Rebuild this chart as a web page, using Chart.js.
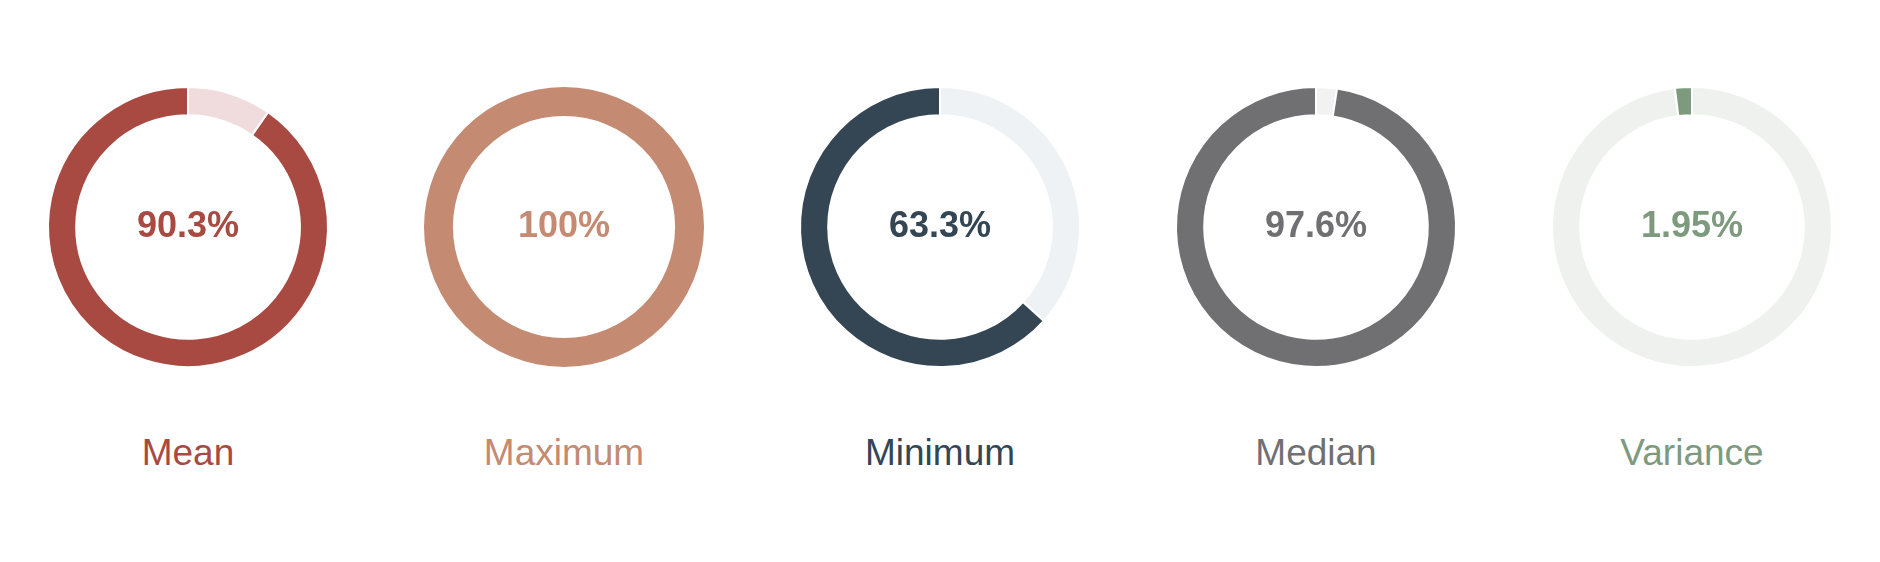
<!DOCTYPE html>
<html>
<head>
<meta charset="utf-8">
<script src="https://cdn.jsdelivr.net/npm/chart.js@4"></script>
<style>
  body { margin: 0; background: #fff; font-family: "Liberation Sans", Arial, sans-serif; }
  .row { display: flex; width: 1880px; height: 562px; }
  .cell { width: 376px; position: relative; }
  .box { position: absolute; left: 0; top: 77px; width: 376px; height: 300px; }
  .val { position: absolute; left: 0; width: 376px; top: 204px; text-align: center; font-weight: bold; font-size: 36px; }
  .lbl { position: absolute; left: 0; width: 376px; top: 432px; text-align: center; font-size: 37px; }
</style>
</head>
<body>
<div class="row" id="row"></div>
<script>
// stats shown as gauges
var labels = ['Mean', 'Maximum', 'Minimum', 'Median', 'Variance'];
var values = [90.3, 100, 63.3, 97.6, 1.95];
var valueText = ['90.3%', '100%', '63.3%', '97.6%', '1.95%'];
var colors = ['#a84a41', '#c48a72', '#344654', '#707073', '#7e9a7e'];
var lightColors = ['#f0dcdc', '#f5e8e2', '#eef2f5', '#f2f2f2', '#eff1ee'];

var row = document.getElementById('row');
labels.forEach(function (name, i) {
    var cell = document.createElement('div');
    cell.className = 'cell';
    cell.innerHTML = '<div class="box"><canvas id="c' + i + '"></canvas></div>' +
        '<div class="val" style="color:' + colors[i] + '">' + valueText[i] + '</div>' +
        '<div class="lbl" style="color:' + colors[i] + '">' + name + '</div>';
    row.appendChild(cell);

    new Chart(document.getElementById('c' + i).getContext('2d'), {
        type: 'doughnut',
        data: {
            labels: ['Rest', name],
            datasets: [{
                data: [100 - values[i], values[i]],
                backgroundColor: [lightColors[i], colors[i]],
                borderColor: '#fff',
                borderWidth: values[i] >= 100 ? 0 : 2
            }]
        },
        options: {
            responsive: true,
            maintainAspectRatio: false,
            animation: false,
            radius: 140,
            cutout: 119,
            plugins: { legend: { display: false }, tooltip: { enabled: false } }
        }
    });
});
</script>
</body>
</html>
